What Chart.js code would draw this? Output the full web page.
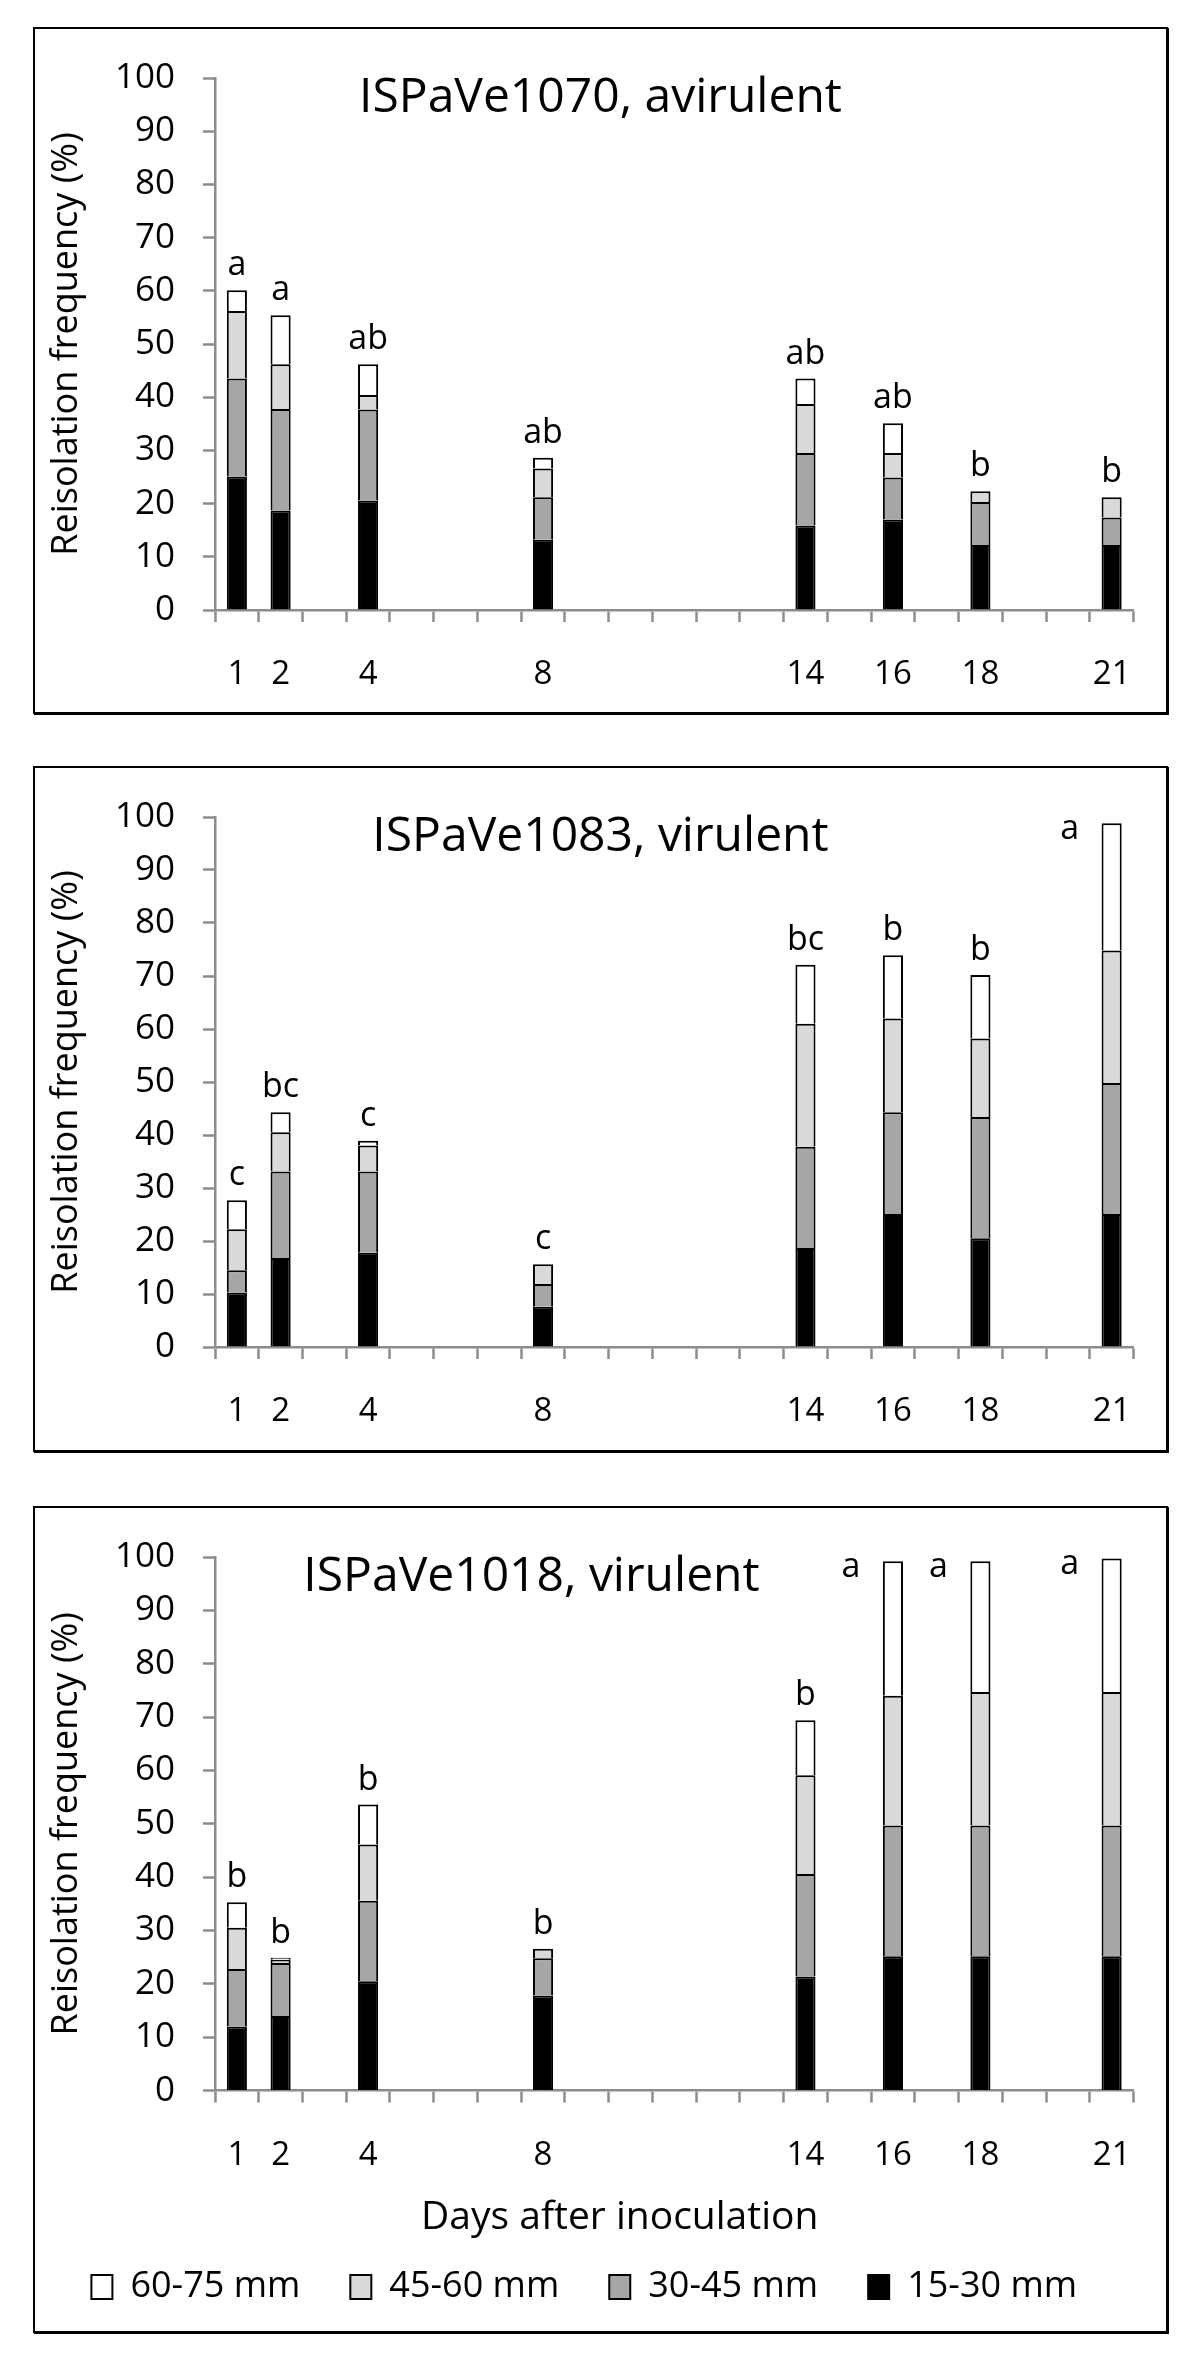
<!DOCTYPE html>
<html>
<head>
<meta charset="utf-8">
<title>Reisolation frequency</title>
<script src="https://cdn.jsdelivr.net/npm/chart.js@4.4.1/dist/chart.umd.min.js"></script>
<style>
  html, body { margin: 0; padding: 0; background: #fff; }
  body { width: 1200px; height: 2361px; position: relative; overflow: hidden; }
  .panel { position: absolute; left: 33px; width: 1135px; box-sizing: border-box; border: 2px solid #000; box-shadow: 1px 1px 0 #000; background: #fff; }
  .panel canvas { display: block; }
</style>
</head>
<body>
<div class="panel" style="top:27px;height:687px"><canvas id="c1" width="1131" height="683"></canvas></div>
<div class="panel" style="top:766px;height:686px"><canvas id="c2" width="1131" height="682"></canvas></div>
<div class="panel" style="top:1506px;height:827px"><canvas id="c3" width="1131" height="823"></canvas></div>
<script>
// x axis runs over every day 1..21, only sampled days get a label
const tickLabels = ['1', '2', '3', '4', '5', '6', '7', '8', '9', '10', '11',
                    '12', '13', '14', '15', '16', '17', '18', '19', '20', '21'];
const days = ['1', '2', '4', '8', '14', '16', '18', '21'];
const sizeClasses = ['15-30 mm', '30-45 mm', '45-60 mm', '60-75 mm'];

// ISPaVe1070, avirulent
const a1070_15_30 = [25.1, 18.7, 20.6, 13.2, 15.9, 17.0, 12.2, 12.2];
const a1070_30_45 = [18.4, 19.1, 17.1, 8.0, 13.6, 7.9, 8.1, 5.2];
const a1070_45_60 = [12.7, 8.4, 2.7, 5.4, 9.2, 4.6, 2.0, 3.8];
const a1070_60_75 = [3.9, 9.2, 5.8, 2.0, 4.8, 5.6, 0, 0];
const a1070_letters = ['a', 'a', 'ab', 'ab', 'ab', 'ab', 'b', 'b'];

// ISPaVe1083, virulent
const v1083_15_30 = [10.3, 16.8, 17.8, 7.6, 18.7, 25.1, 20.5, 25.1];
const v1083_30_45 = [4.2, 16.3, 15.3, 4.3, 19.1, 19.2, 22.9, 24.7];
const v1083_45_60 = [7.7, 7.4, 4.9, 3.7, 23.2, 17.7, 14.8, 25.0];
const v1083_60_75 = [5.5, 3.8, 0.9, 0, 11.1, 11.9, 12.0, 24.0];
const v1083_letters = ['c', 'bc', 'c', 'c', 'bc', 'b', 'b', 'a'];

// ISPaVe1018, virulent
const v1018_15_30 = [12.0, 14.0, 20.5, 17.8, 21.4, 25.2, 25.2, 25.2];
const v1018_30_45 = [10.8, 9.9, 15.1, 7.0, 19.2, 24.5, 24.5, 24.5];
const v1018_45_60 = [7.7, 0.6, 10.5, 1.8, 18.5, 24.3, 25.0, 25.0];
const v1018_60_75 = [4.8, 0.4, 7.5, 0, 10.3, 25.2, 24.5, 25.0];
const v1018_letters = ['b', 'b', 'b', 'b', 'b', 'a', 'a', 'a'];

const FONT = "'Open Sans', sans-serif";
const axisGray = '#8c8c8c';
const fills = ['#000000', '#a6a6a6', '#d9d9d9', '#ffffff'];

Chart.defaults.font.family = FONT;
Chart.defaults.color = '#000';

// panel title, significance letters and (bottom panel) x title
const panelText = {
    id: 'panelText',
    afterDatasetsDraw(chart, args, opts) {
        const { ctx, chartArea } = chart;
        const x = chart.scales.x, y = chart.scales.y;
        ctx.save();
        ctx.fillStyle = '#000';
        ctx.textAlign = 'center';
        ctx.textBaseline = 'alphabetic';
        ctx.font = '48px ' + FONT;
        ctx.fillText(opts.title, chart.width * opts.titleAt, opts.titleBaseline);

        ctx.font = '34px ' + FONT;
        days.forEach((d, i) => {
            const total = chart.data.datasets.reduce((s, ds) => s + ds.data[i].y, 0);
            const px = x.getPixelForValue(tickLabels.indexOf(d));
            const py = y.getPixelForValue(total);
            if (total > 90) {
                ctx.textBaseline = 'middle';
                ctx.fillText(opts.letters[i], px - 42, py + 6);
            } else {
                ctx.textBaseline = 'alphabetic';
                ctx.fillText(opts.letters[i], px, py - 15);
            }
        });

        if (opts.xTitle) {
            ctx.font = '39px ' + FONT;
            ctx.textBaseline = 'middle';
            ctx.fillText(opts.xTitle, chart.width * 0.517, chartArea.bottom + 127);
        }
        ctx.restore();
    }
};

function makePanel(id, series, letters, title, lay) {
    const ctx = document.getElementById(id).getContext('2d');
    const datasets = series.map((vals, k) => ({
        label: sizeClasses[k],
        data: vals.map((v, i) => ({ x: days[i], y: v })),
        backgroundColor: fills[k],
        borderColor: '#000',
        borderWidth: 2,
        borderSkipped: 'start',
        categoryPercentage: 0.46,
        barPercentage: 1
    }));

    return new Chart(ctx, {
        type: 'bar',
        data: { labels: tickLabels, datasets: datasets },
        options: {
            responsive: false,
            animation: false,
            devicePixelRatio: 1,
            layout: { padding: { top: lay.top, right: 32.5, bottom: lay.bottom, left: 0 } },
            plugins: {
                legend: lay.legend ? {
                    display: true,
                    position: 'bottom',
                    reverse: true,
                    labels: {
                        boxWidth: 21,
                        boxHeight: 24,
                        padding: 50,
                        color: '#000',
                        font: { size: 36 }
                    }
                } : { display: false },
                tooltip: { enabled: false },
                panelText: {
                    title: title,
                    titleAt: lay.titleAt,
                    titleBaseline: 83,
                    letters: letters,
                    xTitle: lay.legend ? 'Days after inoculation' : null
                }
            },
            scales: {
                x: {
                    stacked: true,
                    offset: true,
                    grid: {
                        offset: true,
                        drawOnChartArea: false,
                        tickLength: 12,
                        tickColor: axisGray,
                        tickWidth: 2.5
                    },
                    border: { color: axisGray, width: 2.5 },
                    ticks: {
                        autoSkip: false,
                        maxRotation: 0,
                        padding: 33,
                        font: { size: 33 },
                        callback: function (value) {
                            const lab = this.getLabelForValue(value);
                            return days.includes(lab) ? lab : '';
                        }
                    },
                    afterFit: (s) => { s.height = lay.xHeight; }
                },
                y: {
                    stacked: true,
                    min: 0,
                    max: 100,
                    grid: {
                        drawOnChartArea: false,
                        tickLength: 12,
                        tickColor: axisGray,
                        tickWidth: 2.5
                    },
                    border: { color: axisGray, width: 2.5 },
                    ticks: { stepSize: 10, padding: 28, font: { size: 35 } },
                    title: {
                        display: true,
                        text: 'Reisolation frequency (%)',
                        font: { size: 36 },
                        padding: { top: 10, bottom: 0 }
                    },
                    afterFit: (s) => { s.width = 180; }
                }
            }
        },
        plugins: [panelText]
    });
}

makePanel('c1', [a1070_15_30, a1070_30_45, a1070_45_60, a1070_60_75], a1070_letters,
    'ISPaVe1070, avirulent', { top: 32, bottom: 0, xHeight: 102, titleAt: 0.5, legend: false });
makePanel('c2', [v1083_15_30, v1083_30_45, v1083_45_60, v1083_60_75], v1083_letters,
    'ISPaVe1083, virulent', { top: 33, bottom: 0, xHeight: 103, titleAt: 0.5, legend: false });
makePanel('c3', [v1018_15_30, v1018_30_45, v1018_45_60, v1018_60_75], v1018_letters,
    'ISPaVe1018, virulent', { top: 40, bottom: 16, xHeight: 128.4, titleAt: 0.439, legend: true });
</script>
</body>
</html>
